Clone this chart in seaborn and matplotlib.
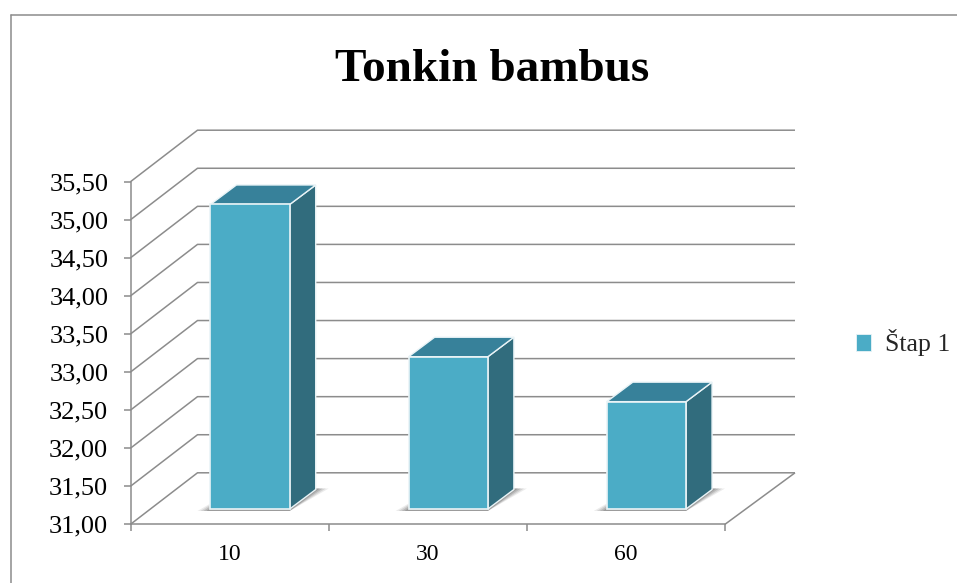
import numpy as np
import matplotlib
matplotlib.use("Agg")
import matplotlib.pyplot as plt
from matplotlib.lines import Line2D
from matplotlib.patches import Patch, Polygon
from matplotlib.transforms import Affine2D, IdentityTransform
import seaborn as sns

# Data
categories = ["10", "30", "60"]
values = [35.0, 33.0, 32.41]
y_ticks = [31.0, 31.5, 32.0, 32.5, 33.0, 33.5, 34.0, 34.5, 35.0, 35.5]
series_name = "Štap 1"
title = "Tonkin bambus"

FRONT = "#4BACC6"
TOP = "#37819A"
SIDE = "#316C7D"
GREY = "#8C8C8C"

W, H = 957, 583
WALL = (67, 51.5)    # wall offset from the front plane, pixels
BAR_POS = (20.5, 15.3)  # bar offset from the front plane
DEPTH = (26, 19.5)   # bar depth

sns.set_theme(style="white")
plt.rcParams["font.family"] = ["Liberation Serif", "DejaVu Sans"]

fig = plt.figure(figsize=(W / 100, H / 100), dpi=100)
ax = fig.add_axes([130.5 / W, 1 - 524.3 / H, 594.5 / W, 342.6 / H])

sns.barplot(x=categories, y=values, width=0.4, color=FRONT, saturation=1, ax=ax)
ax.set_xlim(-0.5, 2.5)
ax.set_ylim(y_ticks[0], y_ticks[-1])
ax.set_xlabel("")
ax.set_ylabel("")

to_px = ax.transData.transform


def px_line(points, **kw):
    xs, ys = zip(*points)
    ax.add_line(Line2D(xs, ys, transform=IdentityTransform(), clip_on=False, **kw))


def px_poly(points, **kw):
    ax.add_patch(Polygon(points, closed=True, transform=IdentityTransform(), clip_on=False, **kw))


# Back wall grid
line_kw = dict(color=GREY, lw=1.1, zorder=1, solid_capstyle="butt")
x_end = to_px((2.5, y_ticks[0]))[0]
for t in y_ticks:
    x0, y0 = to_px((-0.5, t))
    px_line([(x0, y0), (x0 + WALL[0], y0 + WALL[1]), (x_end + WALL[0] + 3, y0 + WALL[1])], **line_kw)

# Floor edge on the right
x1, y1 = to_px((2.5, y_ticks[0]))
px_line([(x1, y1), (x1 + WALL[0] + 3, y1 + WALL[1])], **line_kw)

# Bars: front face from the barplot, top and side faces built on it
offset = ax.transData + Affine2D().translate(*BAR_POS)
for patch, v in zip(ax.patches, values):
    patch.set_y(y_ticks[0])
    patch.set_height(v - y_ticks[0])
    patch.set_transform(offset)
    patch.set_clip_on(False)
    patch.set_edgecolor("#EAF4F7")
    patch.set_linewidth(1.2)
    patch.set_zorder(5)

    left = patch.get_x()
    right = left + patch.get_width()
    xl, yb = offset.transform((left, y_ticks[0]))
    xr, yt = offset.transform((right, v))
    dx, dy = DEPTH

    # soft shadow on the floor
    for grow, alpha in [(13, 0.10), (10, 0.14), (7, 0.18), (4, 0.22)]:
        px_poly([(xl - grow, yb - 2), (xr, yb - 2), (xr + dx + grow, yb + dy + 1),
                 (xl + dx, yb + dy + 1)], facecolor="#404040", alpha=alpha, edgecolor="none", zorder=2)

    px_poly([(xr, yb), (xr + dx, yb + dy), (xr + dx, yt + dy), (xr, yt)],
            facecolor=SIDE, edgecolor="#EAF4F7", lw=1.0, zorder=4)
    px_poly([(xl, yt), (xr, yt), (xr + dx, yt + dy), (xl + dx, yt + dy)],
            facecolor=TOP, edgecolor="#EAF4F7", lw=1.0, zorder=4)

# Axes
ax.set_yticks(y_ticks)
ax.set_yticklabels([f"{t:.2f}".replace(".", ",") for t in y_ticks])
ax.set_xticks(np.arange(-0.5, 3), minor=True)
ax.tick_params(axis="y", length=5, width=1.1, color=GREY, labelsize=19, labelcolor="black", pad=11, left=True)
ax.tick_params(axis="x", which="major", length=0, labelsize=17, labelcolor="black", pad=14)
ax.tick_params(axis="x", which="minor", length=5, width=1.1, color=GREY, bottom=True)
for side in ["top", "right"]:
    ax.spines[side].set_visible(False)
for side in ["left", "bottom"]:
    ax.spines[side].set_color(GREY)
    ax.spines[side].set_linewidth(1.1)

# Title and legend
fig.text(492 / W, 1 - 81 / H, title, ha="center", va="baseline", fontsize=34, fontweight="bold", color="black")
fig.legend(handles=[Patch(facecolor=FRONT, edgecolor="#EAF4F7", lw=0.6)], labels=[series_name],
           loc="center left", bbox_to_anchor=(848 / W, 1 - 343 / H), frameon=False, fontsize=18.5,
           handlelength=0.6, handleheight=0.6, handletextpad=0.55, borderpad=0.3, borderaxespad=0)

# Chart frame
frame = dict(color=GREY, lw=1.1, transform=fig.transFigure)
fig.add_artist(Line2D([11 / W, 11 / W], [0, 1 - 15 / H], **frame))
fig.add_artist(Line2D([11 / W, 1], [1 - 15 / H, 1 - 15 / H], **frame))

fig.savefig("out.png", dpi=100)
